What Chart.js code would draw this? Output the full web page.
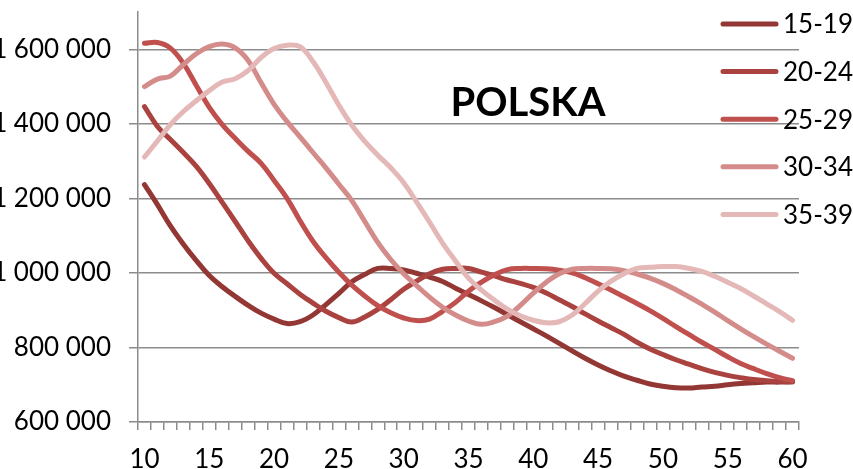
<!DOCTYPE html>
<html>
<head>
<meta charset="utf-8">
<script src="https://cdn.jsdelivr.net/npm/chart.js@4.4.1/dist/chart.umd.min.js"></script>
<style>
  html, body { margin: 0; padding: 0; background: #fff; }
  #wrap { width: 853px; height: 469px; }
</style>
</head>
<body>
<div id="wrap"><canvas id="chart" width="853" height="469"></canvas></div>
<script>
// Year index (x axis categories)
const ages = [10, 11, 12, 13, 14, 15, 16, 17, 18, 19,
              20, 21, 22, 23, 24, 25, 26, 27, 28, 29,
              30, 31, 32, 33, 34, 35, 36, 37, 38, 39,
              40, 41, 42, 43, 44, 45, 46, 47, 48, 49,
              50, 51, 52, 53, 54, 55, 56, 57, 58, 59, 60];

const seriesNames = ['15-19', '20-24', '25-29', '30-34', '35-39'];

const group1519 = [
  1237000, 1183000, 1126000, 1077000, 1033000, 993000, 963000, 937000, 913000, 892000,
  876000, 864000, 869000, 887000, 915000, 945000, 976000, 996000, 1012000, 1012000,
  1008000, 999000, 989000, 977000, 959000, 942000, 925000, 907000, 888000, 869000,
  850000, 831000, 811000, 791000, 771000, 753000, 737000, 723000, 712000, 702000,
  696000, 692000, 691000, 694000, 696000, 700000, 703000, 705000, 707000, 707000, 708000];

const group2024 = [
  1446000, 1393000, 1358000, 1323000, 1286000, 1240000, 1189000, 1138000, 1086000, 1039000,
  999000, 971000, 943000, 919000, 897000, 880000, 868000, 882000, 902000, 928000,
  956000, 978000, 998000, 1010000, 1012000, 1012000, 1002000, 992000, 981000, 972000,
  961000, 946000, 928000, 910000, 890000, 871000, 853000, 835000, 814000, 796000,
  781000, 767000, 755000, 743000, 733000, 725000, 719000, 714000, 711000, 709000, 708000];

const group2529 = [
  1616000, 1618000, 1603000, 1562000, 1503000, 1444000, 1398000, 1361000, 1326000, 1294000,
  1248000, 1200000, 1140000, 1085000, 1041000, 1002000, 967000, 938000, 912000, 893000,
  879000, 872000, 876000, 897000, 921000, 951000, 975000, 995000, 1009000, 1012000,
  1012000, 1011000, 1007000, 1000000, 987000, 971000, 954000, 936000, 918000, 899000,
  878000, 856000, 835000, 814000, 795000, 775000, 757000, 743000, 730000, 719000, 711000];

const group3034 = [
  1500000, 1520000, 1528000, 1559000, 1588000, 1607000, 1614000, 1604000, 1570000, 1510000,
  1452000, 1406000, 1365000, 1323000, 1282000, 1238000, 1194000, 1138000, 1082000, 1036000,
  998000, 966000, 935000, 908000, 887000, 871000, 862000, 869000, 884000, 913000,
  946000, 975000, 998000, 1010000, 1012000, 1012000, 1011000, 1006000, 997000, 986000,
  972000, 955000, 936000, 916000, 895000, 872000, 850000, 829000, 809000, 790000, 771000];

const group3539 = [
  1311000, 1354000, 1398000, 1433000, 1462000, 1489000, 1512000, 1521000, 1543000, 1578000,
  1602000, 1611000, 1607000, 1567000, 1511000, 1450000, 1396000, 1353000, 1316000, 1282000,
  1242000, 1190000, 1136000, 1080000, 1032000, 986000, 954000, 927000, 903000, 885000,
  873000, 866000, 869000, 887000, 918000, 951000, 978000, 998000, 1012000, 1015000,
  1017000, 1017000, 1012000, 1004000, 991000, 975000, 958000, 938000, 917000, 896000, 873000];

const yTicks = [600000, 800000, 1000000, 1200000, 1400000, 1600000];
const xTickLabels = [10, 15, 20, 25, 30, 35, 40, 45, 50, 55, 60];

const seriesColors = ['#923734', '#AA4340', '#C0504D', '#D48C8A', '#E4B8B7'];
const gridColor = '#8c8c8c';

const allSeries = [group1519, group2024, group2529, group3034, group3539];

// thousands separated with a space, like "1 600 000"
const fmt = v => String(v).replace(/\B(?=(\d{3})+(?!\d))/g, ' ');

// legend + title drawn over the plot, as in the original
const overlayPlugin = {
  id: 'overlay',
  afterDraw(chart) {
    const ctx = chart.ctx;
    ctx.save();
    ctx.fillStyle = '#000';
    ctx.font = 'bold 40px Lato';
    ctx.textAlign = 'center';
    ctx.textBaseline = 'alphabetic';
    ctx.fillText('POLSKA', 528, 116);

    ctx.font = '26px Lato';
    ctx.textAlign = 'left';
    ctx.textBaseline = 'middle';
    chart.data.datasets.forEach((ds, i) => {
      const y = 24 + i * 47.6;
      ctx.strokeStyle = ds.borderColor;
      ctx.lineWidth = 5;
      ctx.lineCap = 'round';
      ctx.beginPath();
      ctx.moveTo(723, y);
      ctx.lineTo(776, y);
      ctx.stroke();
      ctx.fillStyle = '#000';
      ctx.fillText(ds.label, 783, y + 1);
    });
    ctx.restore();
  }
};

const ctx = document.getElementById('chart').getContext('2d');
Chart.defaults.font.family = 'Lato';
Chart.defaults.color = '#000';

new Chart(ctx, {
  type: 'line',
  data: {
    labels: ages,
    datasets: seriesNames.map((name, i) => ({
      label: name,
      data: allSeries[i],
      borderColor: seriesColors[i],
      backgroundColor: seriesColors[i],
      borderWidth: 5,
      borderCapStyle: 'round',
      pointRadius: 0,
      tension: 0.4,
      fill: false,
      order: seriesNames.length - i
    }))
  },
  options: {
    responsive: false,
    animation: false,
    devicePixelRatio: 1,
    layout: { padding: { top: 12, right: 54, left: 0, bottom: 0 } },
    plugins: {
      legend: { display: false },
      tooltip: { enabled: false }
    },
    scales: {
      x: {
        offset: true,
        grid: {
          display: true,
          offset: true,
          drawOnChartArea: false,
          drawTicks: true,
          tickLength: 8,
          color: gridColor,
          lineWidth: 1.5
        },
        border: { display: true, color: gridColor, width: 1.5 },
        ticks: {
          autoSkip: false,
          maxRotation: 0,
          padding: 14,
          font: { size: 26 },
          callback: function (value) {
            const lab = this.getLabelForValue(value);
            return xTickLabels.includes(lab) ? String(lab) : '';
          }
        },
        afterFit: scale => {
          scale.height = 47;
          scale.paddingLeft = 0;
          scale.paddingRight = 0;
        }
      },
      y: {
        min: 600000,
        max: 1700000,
        bounds: 'data',
        grid: {
          color: gridColor,
          lineWidth: 1.5,
          tickLength: 9
        },
        border: { display: true, color: gridColor, width: 1.5 },
        ticks: {
          padding: 18,
          font: { size: 26 },
          callback: v => fmt(v)
        },
        afterBuildTicks: scale => {
          scale.ticks = yTicks.map(v => ({ value: v }));
        },
        afterFit: scale => {
          scale.width = 138;
          scale.paddingTop = 0;
          scale.paddingBottom = 0;
        }
      }
    }
  },
  plugins: [overlayPlugin]
});
</script>
</body>
</html>
